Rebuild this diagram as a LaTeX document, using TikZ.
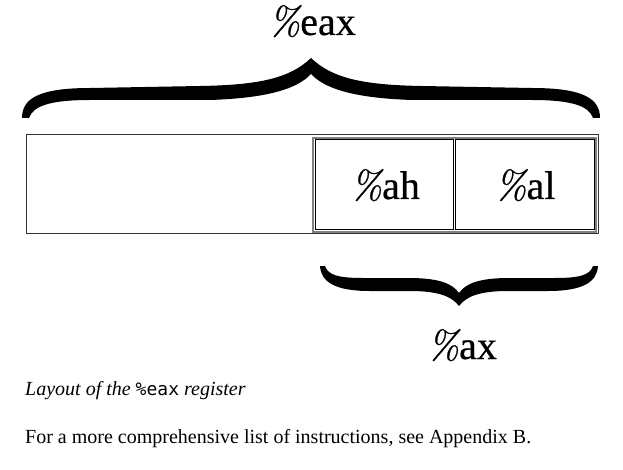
\documentclass[tikz,border=0pt]{standalone}
\usepackage{fontspec}
\newfontfamily\tnr{Liberation Serif}
\newfontfamily\tnrb[FakeBold=0.5]{Liberation Serif}
\newfontfamily\lmpct[FakeBold=0.6]{Latin Modern Roman}
\newfontfamily\mono{DejaVu Sans Mono}
\newcommand\pct{{\lmpct\itshape\%}}
\begin{document}
\begin{tikzpicture}[x=1pt,y=-1pt,
  big/.style={inner sep=0pt,font=\tnrb\fontsize{40}{48}\selectfont},
  txt/.style={inner sep=0pt,font=\tnr\fontsize{20}{24}\selectfont},
  frame/.style={draw=black!80,line width=1pt},
  tableframe/.style={draw=black!50,line width=1.2pt},
  cellbox/.style={draw=black,line width=1pt,inner sep=0pt},
  bracefill/.style={fill=black,draw=none}]
\useasboundingbox (0,0) rectangle (623,470);
% outer register box
\node[frame,inner sep=0pt,minimum width=572pt,minimum height=99pt] (reg) at (312,184.5) {};
% table frame and cells
\node[tableframe,inner sep=0pt,minimum width=283pt,minimum height=94pt] (tbl) at (454.5,185) {};
\node[cellbox,minimum width=138pt,minimum height=90pt] (ah) at (384,185) {};
\node[cellbox,minimum width=139pt,minimum height=90pt] (al) at (524.5,185) {};
% labels
\node[big,anchor=base] (leax) at (312,35) {\pct eax};
\node[big,anchor=base] (lah) at (385,199) {\pct ah};
\node[big,anchor=base] (lal) at (525,199) {\pct al};
\node[big,anchor=base] (lax) at (462,359) {\pct ax};
% top brace
\path[bracefill] (22,118) .. controls (22,99) and (38,88) .. (90,88) -- (200,86)
  .. controls (260,85) and (290,78) .. (311,58)
  .. controls (332,78) and (362,85) .. (422,86) -- (532,88)
  .. controls (584,88) and (600,99) .. (600,118) -- (593,118)
  .. controls (589,106) and (572,100) .. (532,100) -- (412,100)
  .. controls (352,98) and (324,88) .. (311,74)
  .. controls (298,88) and (270,98) .. (210,100) -- (90,100)
  .. controls (50,100) and (33,106) .. (29,118) -- cycle;
% bottom brace
\path[bracefill] (320,266) .. controls (321,282) and (335,291) .. (370,291) -- (410,291)
  .. controls (440,291) and (452,297) .. (459,306)
  .. controls (466,297) and (478,291) .. (508,291) -- (548,291)
  .. controls (583,291) and (597,282) .. (598,266) -- (593,266)
  .. controls (590,275) and (580,278) .. (555,278) -- (510,278)
  .. controls (480,278) and (466,283) .. (459,293)
  .. controls (452,283) and (438,278) .. (408,278) -- (363,278)
  .. controls (338,278) and (328,275) .. (325,266) -- cycle;
% caption and text
\node[txt,anchor=base west] (cap) at (25,395) {\itshape Layout of the {\upshape\mono\fontsize{18}{22}\selectfont \%eax} register};
\node[txt,anchor=base west] (para) at (25,443) {For a more comprehensive list of instructions, see Appendix B.};
\end{tikzpicture}
\end{document}
